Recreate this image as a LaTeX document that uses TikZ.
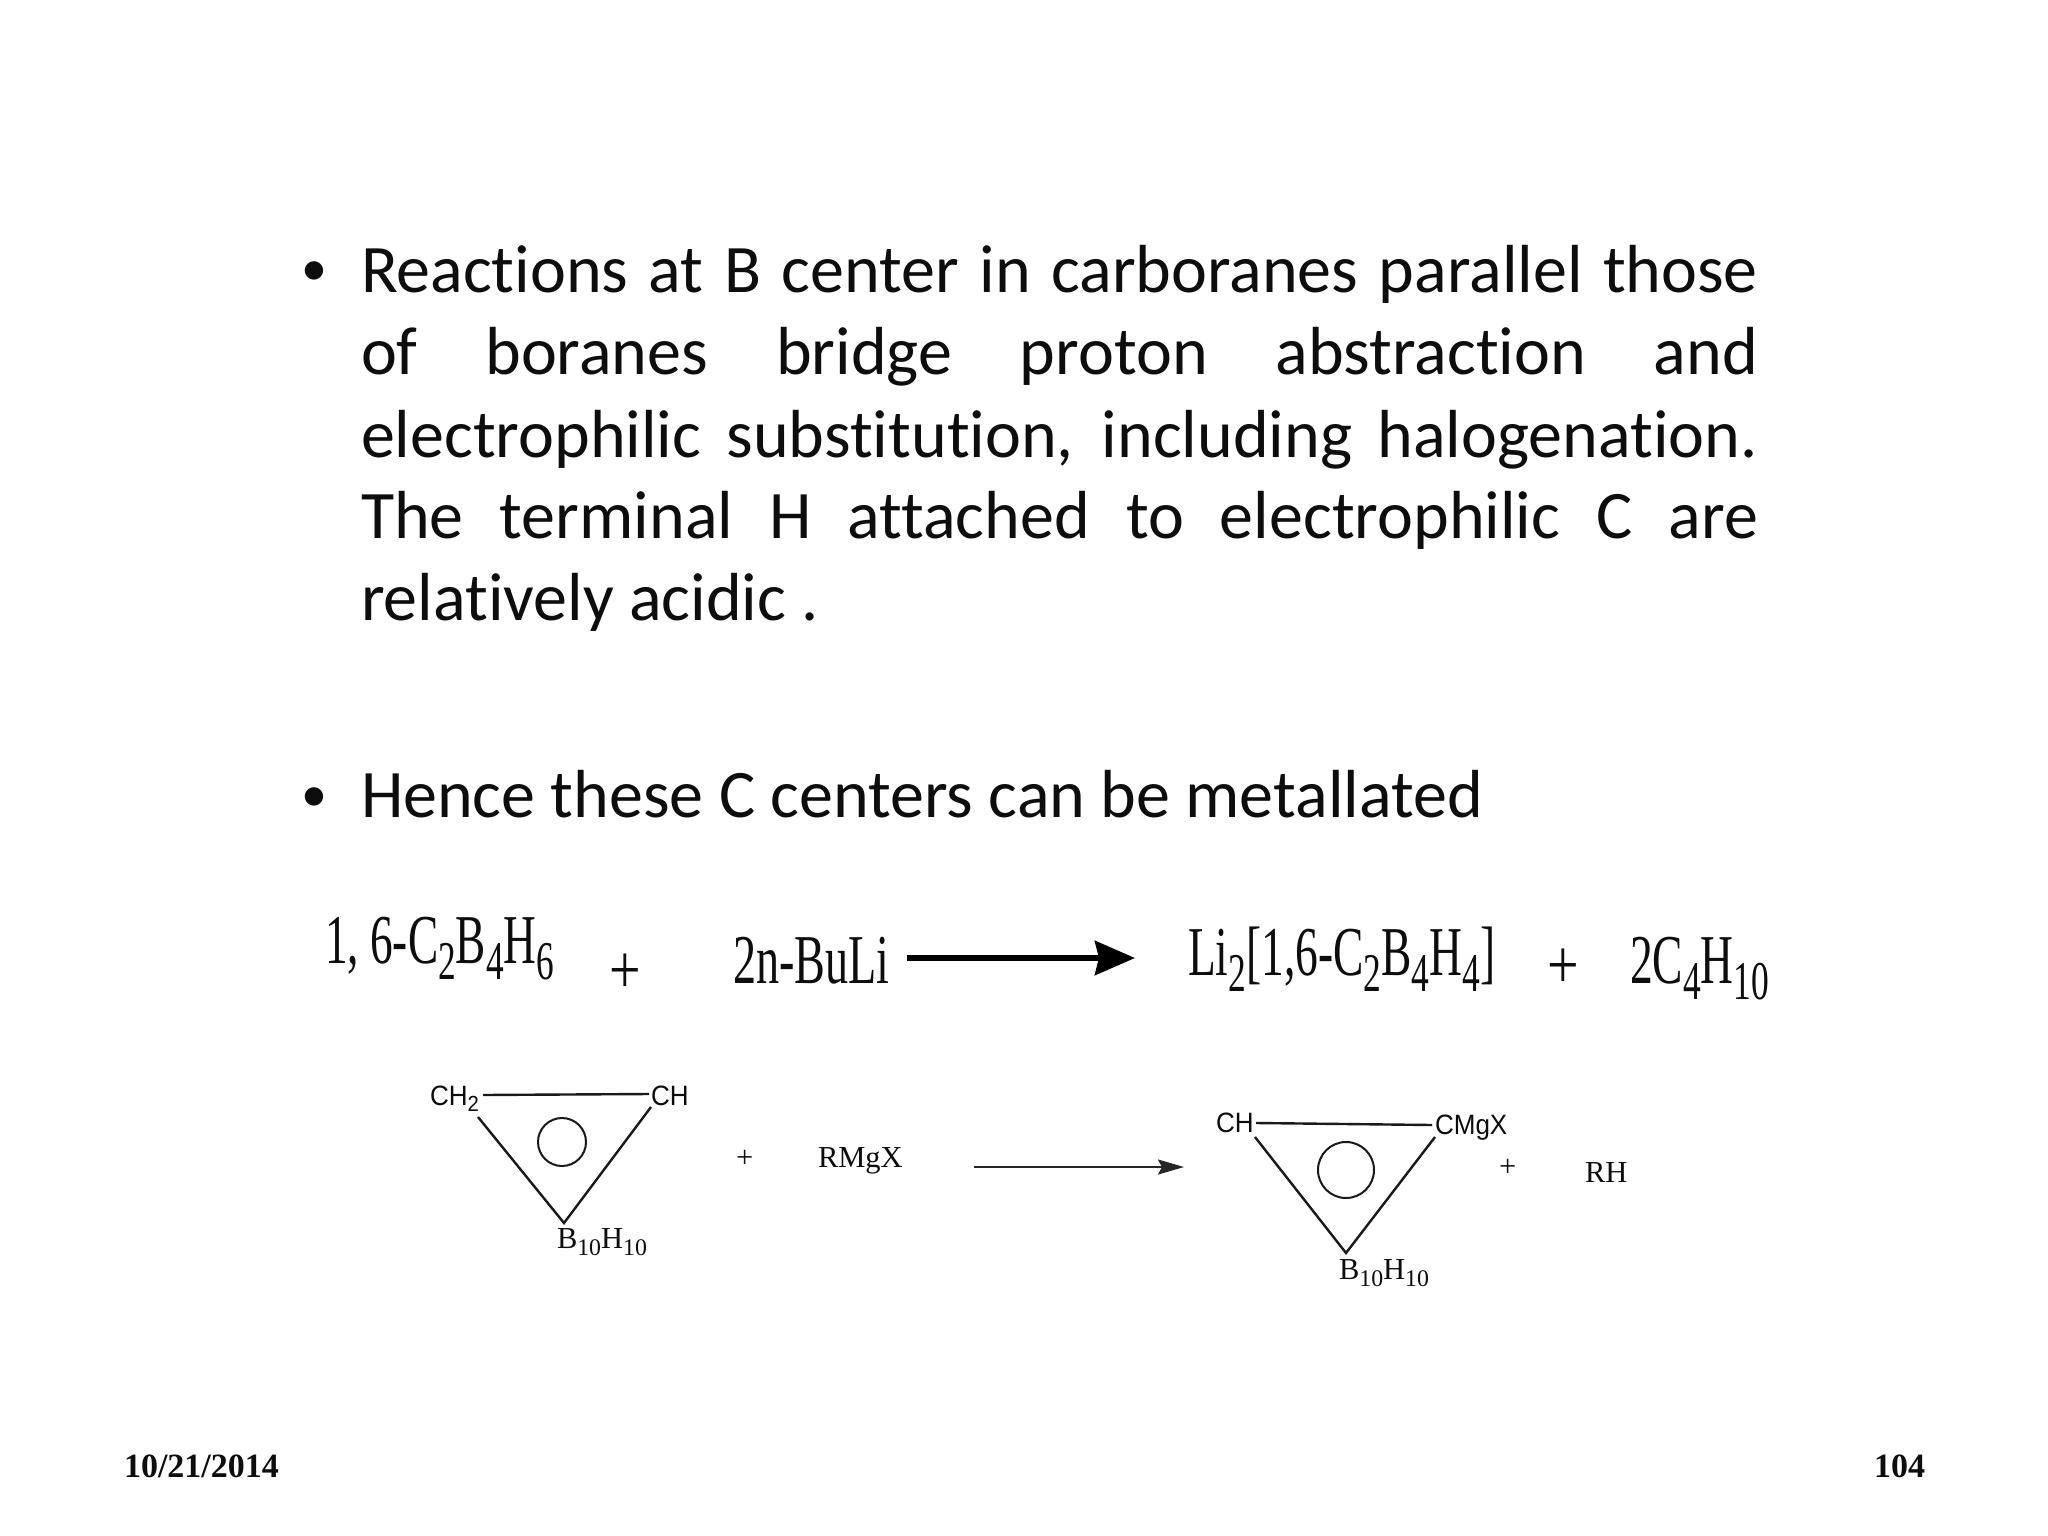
\documentclass[tikz,border=0pt]{standalone}
\usepackage{fontspec}
\usepackage{graphicx}
\usetikzlibrary{arrows.meta}
\setmainfont[Ligatures={NoCommon}]{Carlito}
\newfontfamily\serf{Liberation Serif}
\newfontfamily\sanf{Liberation Sans}
\newcommand\sbs[1]{\raisebox{-.24em}{\scalebox{.78}{#1}}}
\newcommand\sq[2]{\scalebox{#1}[1]{#2}}
\newcommand\jl[1]{\makebox[1397pt][s]{#1}}
\tikzset{
  lbl/.style={anchor=base west,inner sep=0pt,outer sep=0pt,text=black!95},
  body/.style={lbl,font=\fontsize{68}{80}\selectfont},
  bull/.style={lbl,font=\fontsize{52}{58}\selectfont},
  eqn/.style={lbl,font=\serf\fontsize{70}{84}\selectfont},
  serb/.style={lbl,font=\serf\fontsize{30.5}{36}\selectfont},
  sanb/.style={lbl,font=\sanf\fontsize{28}{32}\selectfont},
  foot/.style={lbl,font=\serf\bfseries\fontsize{34}{40}\selectfont},
  bond/.style={line width=2.4pt,black!90},
  rlink/.style={line width=2.2pt,black!85},
}
\begin{document}
\begin{tikzpicture}[x=1pt,y=-1pt]
\useasboundingbox (0,0) rectangle (2048,1536);
\fill[white] (0,0) rectangle (2048,1536);
\node[bull] (b1) at (301,285.5) {•};
\node[body] (l1) at (361,292) {\jl{Reactions at B center in carboranes parallel those}};
\node[body] (l2) at (361,374.5) {\jl{of boranes bridge proton abstraction and}};
\node[body] (l3) at (361,457) {\jl{electrophilic substitution, including halogenation.}};
\node[body] (l4) at (361,538.5) {\jl{The terminal H attached to electrophilic C are}};
\node[body] (l5) at (361,620.5) {relatively acidic .};
\node[bull] (b2) at (301,811.5) {•};
\node[body] (l6) at (361,817) {Hence these C centers can be metallated};
% equation 1
\node[eqn] (e1) at (325,963) {\sq{.647}{1, 6-C\sbs{2}B\sbs{4}H\sbs{6}}};
\node[eqn] (p1) at (609,993) {\sq{.8}{+}};
\node[eqn] (e2) at (733,983) {\sq{.66}{2n-BuLi}};
\node[eqn] (e3) at (1188,975) {\sq{.65}{Li\sbs{2}[1,6-C\sbs{2}B\sbs{4}H\sbs{4}]}};
\node[eqn] (p2) at (1547,988) {\sq{.8}{+}};
\node[eqn] (e4) at (1630,983) {\sq{.65}{2C\sbs{4}H\sbs{10}}};
\coordinate (a1s) at (907,958);
\coordinate (a1e) at (1135,958);
\draw[line width=6pt,black,-{Stealth[length=40pt,width=34pt,inset=4pt]}] (a1s) -- (a1e);
% left triangle
\node[sanb] (t1) at (430,1105) {\sq{.93}{CH\sbs{2}}};
\node[sanb] (t2) at (651,1105) {\sq{.93}{CH}};
\node[serb] (t3) at (557,1248) {B\sbs{10}H\sbs{10}};
\coordinate (la) at (483,1095);
\coordinate (lb) at (649,1094);
\coordinate (lc) at (478,1117);
\coordinate (ld) at (651,1107);
\coordinate (le) at (564,1223);
\draw[bond] (la) -- (lb);
\draw[bond] (lc) -- (le) -- (ld);
\node[draw,circle,line width=2pt,black!90,minimum size=48pt,inner sep=0pt] (c1) at (562,1142) {};
\node[serb] (p3) at (736,1167) {+};
\node[serb] (r1) at (818,1167) {RMgX};
\coordinate (a2s) at (974,1167);
\coordinate (a2e) at (1184,1167);
\draw[rlink,-{Stealth[length=26pt,width=15pt,inset=4pt]}] (a2s) -- (a2e);
% right triangle
\node[sanb] (t4) at (1216,1132) {\sq{.93}{CH}};
\node[sanb] (t5) at (1435,1134) {\sq{.93}{CMgX}};
\node[serb] (t6) at (1339,1279) {B\sbs{10}H\sbs{10}};
\coordinate (ra) at (1256,1123);
\coordinate (rb) at (1432,1125);
\coordinate (rc) at (1255,1137);
\coordinate (rd) at (1435,1137);
\coordinate (re) at (1346,1253);
\draw[bond] (ra) -- (rb);
\draw[bond] (rc) -- (re) -- (rd);
\node[draw,circle,line width=2pt,black!90,minimum size=56pt,inner sep=0pt] (c2) at (1346,1170) {};
\node[serb] (p4) at (1499,1176) {+};
\node[serb] (r2) at (1585,1182) {RH};
% footer
\node[foot] (f1) at (124,1477) {10/21/2014};
\node[foot] (f2) at (1874,1477) {104};
\end{tikzpicture}
\end{document}
